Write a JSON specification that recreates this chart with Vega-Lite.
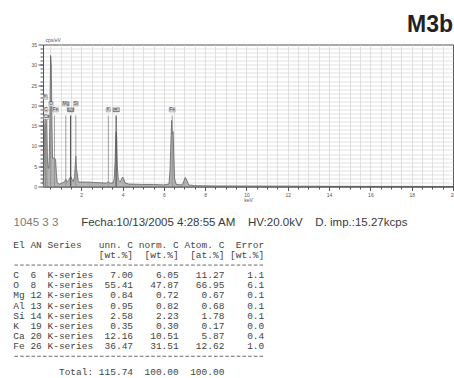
{
  "$schema": "https://vega.github.io/schema/vega-lite/v6.json",
  "padding": {"left": 12, "top": 12.5, "right": 0, "bottom": 0},
  "spacing": 13,
  "config": {
    "font": "Liberation Sans",
    "view": {"stroke": "#555", "strokeWidth": 1},
    "axis": {"domainColor": "#555", "tickColor": "#555", "labelColor": "#555", "titleColor": "#555", "labelFont": "Liberation Sans", "titleFont": "Liberation Sans"}
  },
  "vconcat": [
    {
      "width": 410,
      "height": 142,
      "title": {"text": "M3b", "anchor": "end", "frame": "group", "fontSize": 23, "fontWeight": "bold", "color": "#222", "offset": 0.5, "font": "Liberation Sans"},
      "resolve": {"axis": {"x": "independent", "y": "independent"}},
      "layer": [
        {
          "data": {"values": [
            {"e": 0.15, "c": 0.5}, {"e": 0.18, "c": 3}, {"e": 0.2, "c": 8}, {"e": 0.23, "c": 14}, {"e": 0.26, "c": 17},
            {"e": 0.28, "c": 17.5}, {"e": 0.31, "c": 16}, {"e": 0.34, "c": 12}, {"e": 0.37, "c": 6}, {"e": 0.4, "c": 4.5},
            {"e": 0.43, "c": 4.5}, {"e": 0.46, "c": 8}, {"e": 0.49, "c": 20}, {"e": 0.52, "c": 32.3}, {"e": 0.55, "c": 30},
            {"e": 0.58, "c": 17}, {"e": 0.61, "c": 7}, {"e": 0.64, "c": 7}, {"e": 0.68, "c": 7}, {"e": 0.72, "c": 7},
            {"e": 0.76, "c": 6.5}, {"e": 0.8, "c": 3}, {"e": 0.84, "c": 1}, {"e": 0.88, "c": 0.7}, {"e": 0.95, "c": 0.6},
            {"e": 1.0, "c": 0.7}, {"e": 1.1, "c": 0.9}, {"e": 1.2, "c": 1.2}, {"e": 1.254, "c": 1.8}, {"e": 1.3, "c": 1.2},
            {"e": 1.4, "c": 1.5}, {"e": 1.487, "c": 2.5}, {"e": 1.55, "c": 1.8}, {"e": 1.62, "c": 1.2}, {"e": 1.68, "c": 2.5},
            {"e": 1.72, "c": 6}, {"e": 1.74, "c": 7.5}, {"e": 1.77, "c": 4.5}, {"e": 1.8, "c": 3.5}, {"e": 1.85, "c": 1.5},
            {"e": 1.9, "c": 1.1}, {"e": 2.0, "c": 1.1}, {"e": 2.3, "c": 1.1}, {"e": 2.6, "c": 1.0}, {"e": 3.0, "c": 0.9},
            {"e": 3.2, "c": 0.8}, {"e": 3.31, "c": 1.2}, {"e": 3.4, "c": 0.8}, {"e": 3.55, "c": 0.9}, {"e": 3.6, "c": 2},
            {"e": 3.64, "c": 6}, {"e": 3.67, "c": 12}, {"e": 3.69, "c": 13.5}, {"e": 3.72, "c": 12}, {"e": 3.75, "c": 5},
            {"e": 3.8, "c": 1.5}, {"e": 3.9, "c": 1.2}, {"e": 3.97, "c": 2}, {"e": 4.01, "c": 2.3}, {"e": 4.05, "c": 2},
            {"e": 4.12, "c": 0.9}, {"e": 4.3, "c": 0.6}, {"e": 5.0, "c": 0.5}, {"e": 5.5, "c": 0.5}, {"e": 6.0, "c": 0.4},
            {"e": 6.25, "c": 0.6}, {"e": 6.3, "c": 4}, {"e": 6.34, "c": 10.5}, {"e": 6.38, "c": 16.3}, {"e": 6.41, "c": 13},
            {"e": 6.45, "c": 13.5}, {"e": 6.48, "c": 8}, {"e": 6.52, "c": 2}, {"e": 6.6, "c": 0.5}, {"e": 6.9, "c": 0.4},
            {"e": 6.98, "c": 1.5}, {"e": 7.03, "c": 2.2}, {"e": 7.07, "c": 2}, {"e": 7.12, "c": 1.5}, {"e": 7.2, "c": 0.4},
            {"e": 7.5, "c": 0.2}, {"e": 8.5, "c": 0.15}, {"e": 10, "c": 0.12}, {"e": 12, "c": 0.1}, {"e": 14, "c": 0.05},
            {"e": 20, "c": 0}
          ]},
          "mark": {"type": "area", "fill": "#969696", "line": {"color": "#505050", "strokeWidth": 0.7}},
          "encoding": {
            "x": {"field": "e", "type": "quantitative", "scale": {"domain": [0.15, 20], "nice": false, "zero": false},
              "axis": {"orient": "bottom", "values": [2, 4, 6, 8, 10, 12, 14, 16, 18, 20], "labelFontSize": 5, "tickSize": 4, "labelPadding": 1.5, "grid": false, "title": "keV", "titleFontSize": 5, "titleFontWeight": "normal", "titlePadding": 0.5, "labelFlush": false}},
            "y": {"field": "c", "type": "quantitative", "scale": {"domain": [0, 35], "nice": false},
              "axis": {"orient": "left", "values": [0, 5, 10, 15, 20, 25, 30, 35], "labelFontSize": 5, "tickSize": 5, "labelPadding": 1.5, "grid": false, "minExtent": 30, "title": "cps/eV", "titleFontSize": 5, "titleFontWeight": "normal", "titleAngle": 0, "titleAlign": "left", "titleBaseline": "bottom", "titleX": 2, "titleY": -2.5}}
          }
        },
        {
          "data": {"name": "markers"},
          "mark": {"type": "rule"},
          "encoding": {
            "x": {"field": "e", "type": "quantitative", "axis": null},
            "y": {"datum": 0, "type": "quantitative", "axis": null},
            "y2": {"datum": 17.5},
            "color": {"condition": {"test": "datum.hl", "value": "#555"}, "value": "#8a8a8a"},
            "strokeWidth": {"condition": {"test": "datum.hl", "value": 1.2}, "value": 0.8}
          }
        },
        {
          "data": {"name": "markers"},
          "mark": {"type": "point", "strokeWidth": 0.5, "opacity": 1},
          "encoding": {
            "x": {"field": "lx", "type": "quantitative",
              "axis": {"orient": "bottom", "values": [0.5, 1, 1.5, 2, 2.5, 3, 3.5, 4, 4.5, 5, 5.5, 6, 6.5, 7, 7.5, 8, 8.5, 9, 9.5, 10, 10.5, 11, 11.5, 12, 12.5, 13, 13.5, 14, 14.5, 15, 15.5, 16, 16.5, 17, 17.5, 18, 18.5, 19, 19.5], "labels": false, "tickSize": 2.5, "grid": true, "gridColor": "#d6d6d6", "gridWidth": 0.7, "domain": false, "title": null}},
            "y": {"field": "ly", "type": "quantitative",
              "axis": {"orient": "left", "values": [1, 2, 3, 4, 6, 7, 8, 9, 11, 12, 13, 14, 16, 17, 18, 19, 21, 22, 23, 24, 26, 27, 28, 29, 31, 32, 33, 34, 5, 10, 15, 20, 25, 30], "labels": false, "tickSize": 3, "grid": true, "gridColor": "#d6d6d6", "gridWidth": 0.7, "domain": false, "title": null}},
            "shape": {"field": "el", "type": "nominal", "legend": null,
              "scale": {"domain": ["K", "C", "O", "Si", "Ca", "Fe", "Mg", "Al"],
                "range": ["M-0.85,-0.85L0.85,-0.85L0.85,0.85L-0.85,0.85Z", "M-0.85,-0.85L0.85,-0.85L0.85,0.85L-0.85,0.85Z", "M-0.85,-0.85L0.85,-0.85L0.85,0.85L-0.85,0.85Z", "M-1,-0.85L1,-0.85L1,0.85L-1,0.85Z", "M-1.3,-0.85L1.3,-0.85L1.3,0.85L-1.3,0.85Z", "M-1.2,-0.85L1.2,-0.85L1.2,0.85L-1.2,0.85Z", "M-1.35,-0.85L1.35,-0.85L1.35,0.85L-1.35,0.85Z", "M-1.35,-0.85L1.35,-0.85L1.35,0.85L-1.35,0.85Z"]}},
            "size": {"value": 25},
            "fill": {"condition": {"test": "datum.hl", "value": "#7a7a7a"}, "value": "#e6e6e6"},
            "stroke": {"value": "#8a8a8a"}
          }
        },
        {
          "data": {"name": "markers"},
          "mark": {"type": "text", "fontSize": 4.5, "baseline": "middle", "align": "center", "font": "Liberation Sans"},
          "encoding": {
            "x": {"field": "lx", "type": "quantitative", "axis": null},
            "y": {"field": "ly", "type": "quantitative", "axis": null},
            "text": {"field": "el"},
            "color": {"condition": {"test": "datum.hl", "value": "#f0f0f0"}, "value": "#333"}
          }
        }
      ]
    },
    {
      "width": 251,
      "height": 151,
      "view": {"stroke": null},
      "data": {"name": "table"},
      "encoding": {
        "y": {"field": "line", "type": "quantitative", "scale": {"domain": [-2.2, 12.7], "reverse": true, "nice": false, "zero": false}, "axis": null}
      },
      "layer": [
        {
          "data": {"values": [{"line": 2}, {"line": 11}]},
          "mark": {"type": "rule", "color": "#444", "strokeWidth": 0.8, "strokeDash": [3.6, 2.1]},
          "encoding": {"x": {"datum": 0.2, "type": "quantitative", "scale": {"domain": [5.21, 49.21], "nice": false, "zero": false}, "axis": null}, "x2": {"datum": 43.9}}
        },
        {
          "data": {"values": [{"line": -2.2, "who": "1045 3 3", "info": "Fecha:10/13/2005 4:28:55 AM\u00a0\u00a0\u00a0\u00a0HV:20.0kV\u00a0\u00a0\u00a0\u00a0D. imp.:15.27kcps"}]},
          "layer": [
            {
              "mark": {"type": "text", "align": "left", "baseline": "middle", "font": "Liberation Sans", "fontSize": 11.5, "color": "#7a7a7a"},
              "encoding": {"x": {"datum": 0.05, "type": "quantitative", "axis": null}, "text": {"field": "who"}}
            },
            {
              "mark": {"type": "text", "align": "left", "baseline": "middle", "font": "Liberation Sans", "fontSize": 11.5, "color": "#3a3a3a"},
              "encoding": {"x": {"datum": 11.9, "type": "quantitative", "axis": null}, "text": {"field": "info"}}
            }
          ]
        },
        {
          "transform": [{"filter": "isValid(datum.El)"}],
          "mark": {"type": "text", "align": "left", "baseline": "middle", "font": "Liberation Mono", "fontSize": 9.5, "color": "#444"},
          "encoding": {"x": {"datum": 0, "type": "quantitative", "axis": null}, "text": {"field": "El"}}
        },
        {
          "transform": [{"filter": "isValid(datum.AN)"}],
          "mark": {"type": "text", "align": "left", "baseline": "middle", "font": "Liberation Mono", "fontSize": 9.5, "color": "#444"},
          "encoding": {"x": {"datum": 3, "type": "quantitative", "axis": null}, "text": {"field": "AN"}}
        },
        {
          "transform": [{"filter": "isValid(datum.Series)"}],
          "mark": {"type": "text", "align": "left", "baseline": "middle", "font": "Liberation Mono", "fontSize": 9.5, "color": "#444"},
          "encoding": {"x": {"datum": 6, "type": "quantitative", "axis": null}, "text": {"field": "Series"}}
        },
        {
          "transform": [{"filter": "isValid(datum.lab)"}],
          "mark": {"type": "text", "align": "right", "baseline": "middle", "font": "Liberation Mono", "fontSize": 9.5, "color": "#444"},
          "encoding": {"x": {"datum": 14, "type": "quantitative", "axis": null}, "text": {"field": "lab"}}
        },
        {
          "transform": [{"filter": "isValid(datum.unn)"}],
          "mark": {"type": "text", "align": "right", "baseline": "middle", "font": "Liberation Mono", "fontSize": 9.5, "color": "#444"},
          "encoding": {"x": {"datum": 21, "type": "quantitative", "axis": null}, "text": {"field": "unn"}}
        },
        {
          "transform": [{"filter": "isValid(datum.norm)"}],
          "mark": {"type": "text", "align": "right", "baseline": "middle", "font": "Liberation Mono", "fontSize": 9.5, "color": "#444"},
          "encoding": {"x": {"datum": 29, "type": "quantitative", "axis": null}, "text": {"field": "norm"}}
        },
        {
          "transform": [{"filter": "isValid(datum.atom)"}],
          "mark": {"type": "text", "align": "right", "baseline": "middle", "font": "Liberation Mono", "fontSize": 9.5, "color": "#444"},
          "encoding": {"x": {"datum": 37, "type": "quantitative", "axis": null}, "text": {"field": "atom"}}
        },
        {
          "transform": [{"filter": "isValid(datum.err)"}],
          "mark": {"type": "text", "align": "right", "baseline": "middle", "font": "Liberation Mono", "fontSize": 9.5, "color": "#444"},
          "encoding": {"x": {"datum": 44, "type": "quantitative", "axis": null}, "text": {"field": "err"}}
        }
      ]
    }
  ],
  "datasets": {
    "markers": [
      {"el": "K", "e": 0.262, "lx": 0.27, "ly": 22.0},
      {"el": "C", "e": 0.277, "lx": 0.29, "ly": 18.9},
      {"el": "Ca", "e": 0.341, "lx": 0.33, "ly": 17.1},
      {"el": "O", "e": 0.525, "lx": 0.537, "ly": 20.3},
      {"el": "Fe", "e": 0.705, "lx": 0.75, "ly": 18.9},
      {"el": "Mg", "e": 1.254, "lx": 1.254, "ly": 20.4},
      {"el": "Al", "e": 1.487, "lx": 1.487, "ly": 18.9, "hl": true},
      {"el": "Si", "e": 1.74, "lx": 1.74, "ly": 20.4},
      {"el": "K", "e": 3.314, "lx": 3.314, "ly": 18.9},
      {"el": "Ca", "e": 3.692, "lx": 3.692, "ly": 18.9, "hl": true},
      {"el": "Fe", "e": 6.404, "lx": 6.404, "ly": 18.9}
    ],
    "table": [
      {"line": 0, "El": "El", "AN": "AN", "Series": "Series", "unn": "unn. C", "norm": "norm. C", "atom": "Atom. C", "err": "Error"},
      {"line": 1, "unn": "[wt.%]", "norm": "[wt.%]", "atom": "[at.%]", "err": "[wt.%]"},
      {"line": 3, "El": "C", "AN": "6", "Series": "K-series", "unn": "7.00", "norm": "6.05", "atom": "11.27", "err": "1.1"},
      {"line": 4, "El": "O", "AN": "8", "Series": "K-series", "unn": "55.41", "norm": "47.87", "atom": "66.95", "err": "6.1"},
      {"line": 5, "El": "Mg", "AN": "12", "Series": "K-series", "unn": "0.84", "norm": "0.72", "atom": "0.67", "err": "0.1"},
      {"line": 6, "El": "Al", "AN": "13", "Series": "K-series", "unn": "0.95", "norm": "0.82", "atom": "0.68", "err": "0.1"},
      {"line": 7, "El": "Si", "AN": "14", "Series": "K-series", "unn": "2.58", "norm": "2.23", "atom": "1.78", "err": "0.1"},
      {"line": 8, "El": "K", "AN": "19", "Series": "K-series", "unn": "0.35", "norm": "0.30", "atom": "0.17", "err": "0.0"},
      {"line": 9, "El": "Ca", "AN": "20", "Series": "K-series", "unn": "12.16", "norm": "10.51", "atom": "5.87", "err": "0.4"},
      {"line": 10, "El": "Fe", "AN": "26", "Series": "K-series", "unn": "36.47", "norm": "31.51", "atom": "12.62", "err": "1.0"},
      {"line": 12.6, "lab": "Total:", "unn": "115.74", "norm": "100.00", "atom": "100.00"}
    ]
  }
}
